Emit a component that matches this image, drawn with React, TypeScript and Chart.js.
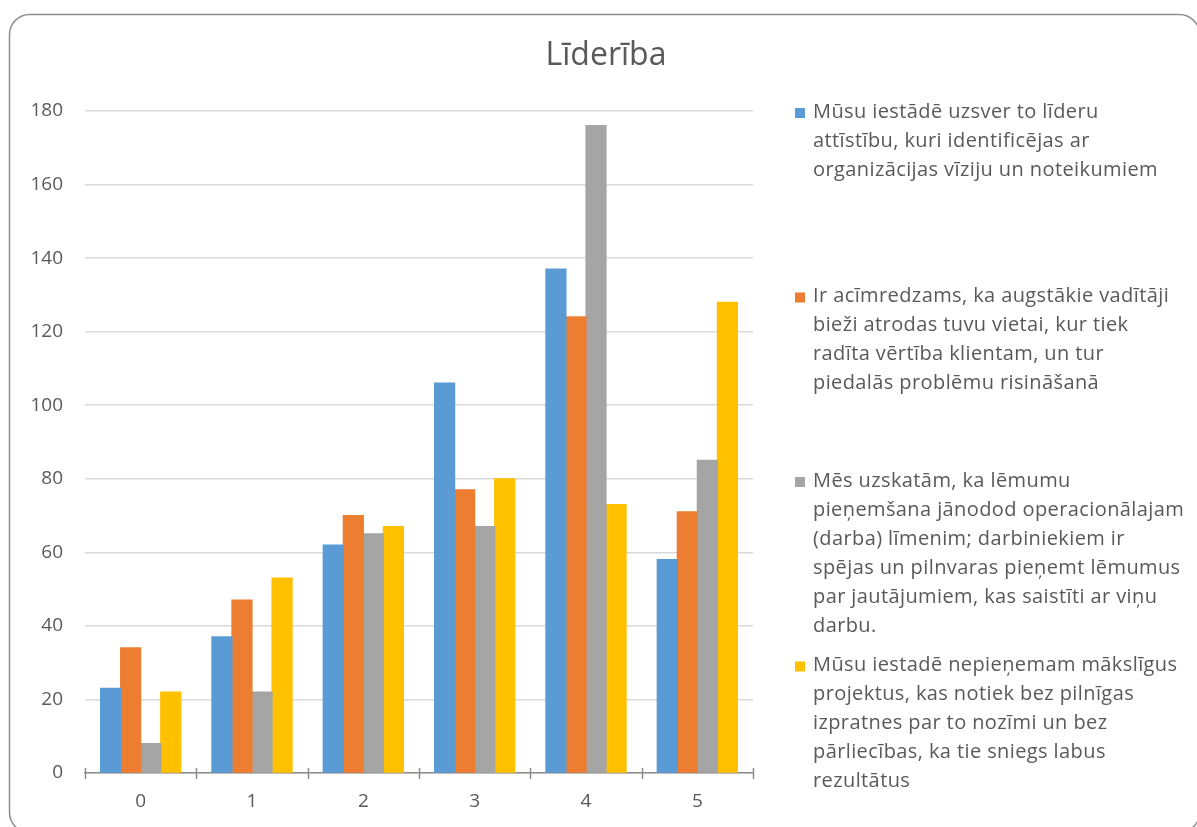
import React, { useEffect, useRef } from "react";
import { Chart, registerables } from "chart.js";

Chart.register(...registerables);

const chartTitle = "Līderība";
const categories = ["0", "1", "2", "3", "4", "5"];
const series1 = [23, 37, 62, 106, 137, 58];
const series2 = [34, 47, 70, 77, 124, 71];
const series3 = [8, 22, 65, 67, 176, 85];
const series4 = [22, 53, 67, 80, 73, 128];
const seriesColors = ["#5B9BD5", "#ED7D31", "#A5A5A5", "#FFC000"];
const legend1 = [
  "Mūsu iestādē uzsver to līderu",
  "attīstību, kuri identificējas ar",
  "organizācijas vīziju un noteikumiem",
];
const legend2 = [
  "Ir acīmredzams, ka augstākie vadītāji",
  "bieži atrodas tuvu vietai, kur tiek",
  "radīta vērtība klientam, un tur",
  "piedalās problēmu risināšanā",
];
const legend3 = [
  "Mēs uzskatām, ka lēmumu",
  "pieņemšana jānodod operacionālajam",
  "(darba) līmenim; darbiniekiem ir",
  "spējas un pilnvaras pieņemt lēmumus",
  "par jautājumiem, kas saistīti ar viņu",
  "darbu.",
];
const legend4 = [
  "Mūsu iestadē nepieņemam mākslīgus",
  "projektus, kas notiek bez pilnīgas",
  "izpratnes par to nozīmi un bez",
  "pārliecības, ka tie sniegs labus",
  "rezultātus",
];
const yMin = 0;
const yMax = 180;
const yStep = 20;

const FONT = "'Open Sans', sans-serif";
const TEXT = "#595959";

const framePlugin = {
  id: "frame",
  beforeDraw(chart: any) {
    const ctx = chart.ctx;
    ctx.save();
    ctx.fillStyle = "#ffffff";
    ctx.fillRect(0, 0, chart.width, chart.height);
    const x = 9.5, y = 14.5, w = 1190, h = 818, r = 20;
    ctx.beginPath();
    ctx.moveTo(x + r, y);
    ctx.lineTo(x + w - r, y);
    ctx.arcTo(x + w, y, x + w, y + r, r);
    ctx.lineTo(x + w, y + h - r);
    ctx.arcTo(x + w, y + h, x + w - r, y + h, r);
    ctx.lineTo(x + r, y + h);
    ctx.arcTo(x, y + h, x, y + h - r, r);
    ctx.lineTo(x, y + r);
    ctx.arcTo(x, y, x + r, y, r);
    ctx.closePath();
    ctx.strokeStyle = "#8f8f8f";
    ctx.lineWidth = 1.5;
    ctx.stroke();
    ctx.restore();
  },
  afterDraw(chart: any) {
    const ctx = chart.ctx;
    ctx.save();
    // title
    ctx.fillStyle = TEXT;
    ctx.font = `32px ${FONT}`;
    ctx.textAlign = "center";
    ctx.textBaseline = "middle";
    ctx.fillText(chartTitle, 606, 56);

    // x axis tick marks crossing the axis
    const xs = chart.scales.x;
    const area = chart.chartArea;
    const n = xs.ticks.length;
    ctx.strokeStyle = "#8c8c8c";
    ctx.lineWidth = 1.5;
    for (let i = 0; i <= n; i++) {
      const px = area.left + ((area.right - area.left) * i) / n;
      ctx.beginPath();
      ctx.moveTo(Math.round(px) + 0.5, area.bottom - 5);
      ctx.lineTo(Math.round(px) + 0.5, area.bottom + 6);
      ctx.stroke();
    }

    // legend
    const groups = [legend1, legend2, legend3, legend4];
    ctx.textAlign = "left";
    ctx.textBaseline = "middle";
    ctx.font = `20px ${FONT}`;
    try {
      (ctx as any).letterSpacing = "0.4px";
    } catch (e) {}
    groups.forEach((lines, i) => {
      const y0 = 112 + i * 184.5;
      ctx.fillStyle = chart.data.datasets[i].backgroundColor;
      ctx.fillRect(795, y0 - 4, 10, 10);
      ctx.fillStyle = TEXT;
      lines.forEach((line, j) => {
        ctx.fillText(line, 813, y0 + j * 29);
      });
    });
    ctx.restore();
  },
};

export default function App() {
  const ref = useRef<HTMLCanvasElement | null>(null);
  useEffect(() => {
    if (!ref.current) return;
    const labels = [legend1, legend2, legend3, legend4].map((l) => l.join(" "));
    const chart = new Chart(ref.current, {
      type: "bar",
      data: {
        labels: categories,
        datasets: [series1, series2, series3, series4].map((d, i) => ({
          label: labels[i],
          data: d,
          backgroundColor: seriesColors[i],
          borderWidth: 0,
          inflateAmount: 0.6,
          categoryPercentage: 0.72,
          barPercentage: 1,
        })),
      },
      options: {
        animation: false,
        responsive: false,
        maintainAspectRatio: false,
        layout: { padding: { top: 111, right: 444, bottom: 0, left: 0 } },
        plugins: {
          legend: { display: false },
          title: { display: false },
          tooltip: { enabled: false },
        },
        scales: {
          x: {
            grid: { display: false, drawTicks: false },
            border: { display: true, color: "#8c8c8c", width: 1.5 },
            ticks: { color: TEXT, font: { family: FONT, size: 19 }, padding: 17 },
            afterFit(scale: any) {
              scale.height = 54;
            },
          },
          y: {
            min: yMin,
            max: yMax,
            grid: { color: "#d9d9d9", lineWidth: 1.5, drawTicks: false },
            border: { display: false },
            ticks: {
              stepSize: yStep,
              color: TEXT,
              font: { family: FONT, size: 19 },
              padding: 22,
            },
            afterFit(scale: any) {
              scale.width = 85;
            },
          },
        },
      },
      plugins: [framePlugin],
    });
    return () => chart.destroy();
  }, []);
  return (
    <div style={{ position: "absolute", left: 0, top: 0, width: 1197, height: 827 }}>
      <canvas ref={ref} width={1197} height={827} style={{ display: "block" }} />
    </div>
  );
}
